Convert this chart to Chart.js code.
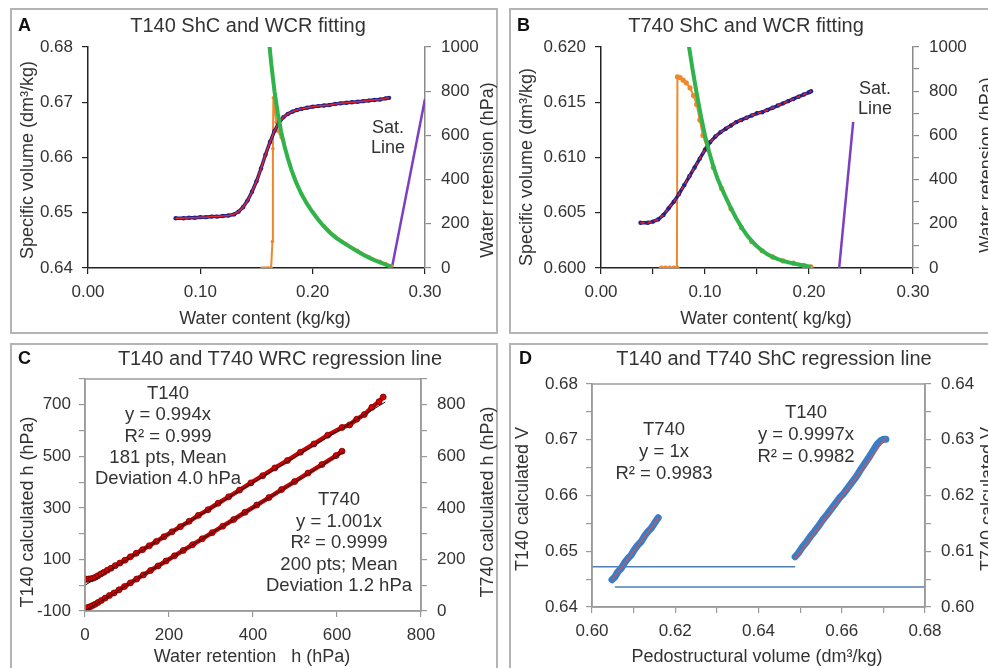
<!DOCTYPE html>
<html>
<head>
<meta charset="utf-8">
<script src="https://cdn.jsdelivr.net/npm/chart.js@4"></script>
<style>
  html, body { margin: 0; padding: 0; background: #fff; }
  #page { position: relative; width: 988px; height: 668px; overflow: hidden; font-family: 'Liberation Sans', Arial, sans-serif; }
  .frame { position: absolute; box-sizing: border-box; border: 2px solid #b4b4b4; }
  canvas { position: absolute; }
  .lbl { position: absolute; transform: translate(-50%, -50%); white-space: pre; line-height: 1; color: #333; }
  .rot { transform: translate(-50%, -50%) rotate(-90deg); }
  .tag { font-weight: bold; font-size: 18px; color: #111; transform: translate(0, -50%); }
  .note { text-align: center; font-size: 18.5px; }
</style>
</head>
<body>
<div id="page">
  <div class="frame" style="left:10px;top:8px;width:488px;height:326px"></div>
  <div class="frame" style="left:509px;top:8px;width:490px;height:326px"></div>
  <div class="frame" style="left:10px;top:343px;width:488px;height:340px"></div>
  <div class="frame" style="left:509px;top:343px;width:490px;height:340px"></div>

  <canvas id="chartA" width="488" height="325" style="left:10px;top:8px"></canvas>
  <canvas id="chartB" width="490" height="325" style="left:509px;top:8px"></canvas>
  <canvas id="chartC" width="488" height="325" style="left:10px;top:343px"></canvas>
  <canvas id="chartD" width="490" height="325" style="left:509px;top:343px"></canvas>

  <!-- A -->
  <div class="lbl tag" style="left:18px;top:25px">A</div>
  <div class="lbl" style="left:248px;top:25px;font-size:20px">T140 ShC and WCR fitting</div>
  <div class="lbl" style="left:265px;top:318px;font-size:18px">Water content (kg/kg)</div>
  <div class="lbl rot" style="left:27px;top:160px;font-size:18px">Specific volume (dm³/kg)</div>
  <div class="lbl rot" style="left:487px;top:170px;font-size:18px">Water retension (hPa)</div>
  <div class="lbl note" style="left:388px;top:137px;font-size:18px;line-height:20px">Sat.<br>Line</div>

  <!-- B -->
  <div class="lbl tag" style="left:517px;top:25px">B</div>
  <div class="lbl" style="left:746px;top:25px;font-size:20px">T740 ShC and WCR fitting</div>
  <div class="lbl" style="left:766px;top:318px;font-size:18px">Water content( kg/kg)</div>
  <div class="lbl rot" style="left:526px;top:167px;font-size:18px">Specific volume (dm³/kg)</div>
  <div class="lbl rot" style="left:986px;top:165px;font-size:18px">Water retension (hPa)</div>
  <div class="lbl note" style="left:875px;top:98px;font-size:18px;line-height:20px">Sat.<br>Line</div>

  <!-- C -->
  <div class="lbl tag" style="left:18px;top:358px">C</div>
  <div class="lbl" style="left:280px;top:358px;font-size:20px">T140 and T740 WRC regression line</div>
  <div class="lbl" style="left:252px;top:656px;font-size:18px">Water retention   h (hPa)</div>
  <div class="lbl rot" style="left:27px;top:512px;font-size:18px">T140 calculated h (hPa)</div>
  <div class="lbl rot" style="left:487px;top:502px;font-size:18px">T740 calculated h (hPa)</div>
  <div class="lbl note" style="left:168px;top:435px;line-height:21.3px">T140<br>y = 0.994x<br>R² = 0.999<br>181 pts, Mean<br>Deviation 4.0 hPa</div>
  <div class="lbl note" style="left:339px;top:542px;line-height:21.5px">T740<br>y = 1.001x<br>R² = 0.9999<br>200 pts; Mean<br>Deviation 1.2 hPa</div>

  <!-- D -->
  <div class="lbl tag" style="left:519px;top:358px">D</div>
  <div class="lbl" style="left:774px;top:358px;font-size:20px">T140 and T740 ShC regression line</div>
  <div class="lbl" style="left:757px;top:656px;font-size:18px">Pedostructural volume (dm³/kg)</div>
  <div class="lbl rot" style="left:522px;top:499px;font-size:18px">T140 calculated V</div>
  <div class="lbl rot" style="left:987px;top:499px;font-size:18px">T740 calculated V</div>
  <div class="lbl note" style="left:664px;top:451px;line-height:22px">T740<br>y = 1x<br>R² = 0.9983</div>
  <div class="lbl note" style="left:806px;top:434px;line-height:22px">T140<br>y = 0.9997x<br>R² = 0.9982</div>
</div>

<script>
// --- A: T140 shrinkage curve and water retention ---
const aShcW = [0.078, 0.085, 0.090, 0.095, 0.100, 0.105, 0.110, 0.115, 0.120, 0.125, 0.130, 0.134, 0.138, 0.142, 0.146, 0.150, 0.154, 0.158, 0.162, 0.166, 0.170, 0.174, 0.178, 0.182, 0.186, 0.190, 0.195, 0.200, 0.205, 0.210, 0.215, 0.220, 0.225, 0.230, 0.235, 0.240, 0.245, 0.250, 0.255, 0.260, 0.265, 0.268];
const aShcV = [0.6490, 0.6490, 0.6491, 0.6491, 0.6492, 0.6492, 0.6493, 0.6493, 0.6494, 0.6495, 0.6497, 0.6502, 0.6510, 0.6522, 0.6538, 0.6557, 0.6580, 0.6605, 0.6628, 0.6648, 0.6663, 0.6673, 0.6679, 0.6683, 0.6686, 0.6688, 0.6690, 0.6692, 0.6693, 0.6694, 0.6695, 0.6697, 0.6698, 0.6699, 0.6700, 0.6701, 0.6702, 0.6703, 0.6704, 0.6705, 0.6707, 0.6708];
const aFitW = [0.157, 0.160, 0.163, 0.166, 0.169, 0.172, 0.175, 0.178, 0.181, 0.185, 0.190, 0.195, 0.200, 0.205, 0.210, 0.215, 0.220, 0.225, 0.230, 0.235, 0.240, 0.245, 0.250, 0.255, 0.260, 0.265, 0.270];
const aFitH = [1250, 1090, 930, 800, 700, 615, 550, 495, 445, 390, 335, 290, 252, 218, 188, 162, 140, 122, 106, 90, 75, 60, 47, 35, 25, 15, 6];
const aObsW = [0.155, 0.157, 0.159, 0.161, 0.163, 0.1642, 0.1646, 0.1650, 0.1662, 0.1675, 0.169, 0.172, 0.175, 0.180, 0.190, 0.200, 0.210, 0.220, 0.230, 0.240, 0.250, 0.260, 0.265, 0.270];
const aObsH = [0, 0, 0, 0, 0, 120, 540, 770, 720, 660, 620, 590, 550, 465, 338, 255, 192, 145, 110, 80, 52, 30, 20, 10];
const aSatW = [0.2705, 0.300];
const aSatH = [0, 765];

// --- B: T740 shrinkage curve and water retention ---
const bShcW = [0.038, 0.045, 0.050, 0.055, 0.060, 0.065, 0.070, 0.075, 0.080, 0.085, 0.090, 0.095, 0.100, 0.105, 0.110, 0.115, 0.120, 0.125, 0.130, 0.135, 0.140, 0.145, 0.150, 0.155, 0.160, 0.165, 0.170, 0.175, 0.180, 0.185, 0.190, 0.195, 0.200, 0.202];
const bShcV = [0.6041, 0.6041, 0.6042, 0.6044, 0.6048, 0.6054, 0.6060, 0.6067, 0.6075, 0.6083, 0.6091, 0.6099, 0.6107, 0.6114, 0.6119, 0.6123, 0.6126, 0.6129, 0.6132, 0.6134, 0.6136, 0.6138, 0.6140, 0.6141, 0.6143, 0.6145, 0.6147, 0.6149, 0.6151, 0.6153, 0.6155, 0.6157, 0.6159, 0.6160];
const bFitW = [0.080, 0.084, 0.088, 0.092, 0.096, 0.100, 0.104, 0.108, 0.112, 0.116, 0.120, 0.125, 0.130, 0.135, 0.140, 0.145, 0.150, 0.155, 0.160, 0.165, 0.170, 0.175, 0.180, 0.185, 0.190, 0.195, 0.200, 0.202];
const bFitH = [1150, 1020, 900, 790, 690, 600, 525, 460, 405, 360, 320, 270, 225, 185, 150, 122, 98, 78, 62, 50, 40, 32, 26, 21, 16, 11, 7, 5];
const bObsW = [0.058, 0.062, 0.066, 0.070, 0.0730, 0.0735, 0.076, 0.079, 0.082, 0.0856, 0.089, 0.092, 0.095, 0.098, 0.102, 0.108, 0.116, 0.125, 0.135, 0.145, 0.155, 0.165, 0.175, 0.185, 0.195, 0.202];
const bObsH = [0, 0, 0, 0, 0, 865, 862, 850, 838, 815, 780, 740, 670, 600, 545, 455, 360, 268, 183, 120, 78, 50, 32, 22, 12, 5];
const bSatW = [0.229, 0.2425];
const bSatH = [0, 661];

// --- C: measured vs calculated h ---
const cT140X = [2, 5, 9, 14, 19, 25, 31, 38, 45, 53, 62, 72, 83, 95, 108, 122, 137, 153, 170, 188, 207, 227, 248, 270, 293, 317, 342, 368, 395, 423, 452, 482, 513, 545, 578, 612, 630, 647, 665, 683, 700, 710];
const cT140Y = [24, 23, 24, 25, 27, 31, 37, 44, 50, 58, 66, 76, 86, 97, 110, 124, 138, 153, 170, 188, 207, 227, 248, 271, 293, 318, 343, 369, 397, 425, 455, 484, 516, 548, 582, 612, 622, 644, 662, 690, 712, 730];
const cT740X = [1, 4, 8, 13, 18, 24, 31, 39, 48, 58, 69, 81, 94, 108, 123, 139, 156, 174, 193, 213, 234, 256, 279, 303, 328, 354, 381, 409, 438, 468, 499, 531, 564, 598, 612];
const cT740Y = [10, 12, 14, 17, 21, 26, 33, 41, 50, 60, 70, 82, 95, 109, 124, 140, 157, 175, 194, 214, 235, 257, 280, 304, 329, 355, 383, 411, 440, 471, 502, 535, 568, 603, 620];
const cFit140X = [0, 715];
const cFit740X = [0, 615];
const c140Slope = 0.994;
const c740Slope = 1.001;

// --- D: measured vs calculated V ---
const dT740X = [0.6048, 0.6055, 0.6062, 0.6070, 0.6078, 0.6086, 0.6094, 0.6102, 0.6110, 0.6118, 0.6126, 0.6134, 0.6142, 0.6150, 0.6156, 0.6159];
const dT740Y = [0.6049, 0.6054, 0.6063, 0.6069, 0.6079, 0.6087, 0.6093, 0.6103, 0.6111, 0.6117, 0.6127, 0.6135, 0.6141, 0.6150, 0.6157, 0.6160];
const dT140X = [0.6488, 0.6495, 0.6505, 0.6515, 0.6525, 0.6535, 0.6545, 0.6555, 0.6565, 0.6575, 0.6585, 0.6595, 0.6605, 0.6615, 0.6625, 0.6635, 0.6645, 0.6655, 0.6665, 0.6675, 0.6685, 0.6693, 0.6700, 0.6706];
const dT140Y = [0.6490, 0.6496, 0.6507, 0.6516, 0.6527, 0.6536, 0.6546, 0.6557, 0.6566, 0.6576, 0.6586, 0.6596, 0.6604, 0.6614, 0.6624, 0.6634, 0.6646, 0.6657, 0.6668, 0.6680, 0.6692, 0.6698, 0.6701, 0.6701];
const dBase140X = [0.600, 0.6488];
const dBase140Y = [0.6472, 0.6472];
const dBase740X = [0.6055, 0.680];
const dBase740Y = [0.6036, 0.6036];
const dFit140X = [0.6488, 0.6706];
const dFit740X = [0.6048, 0.6160];
const d140Slope = 0.9997;
const d740Slope = 1;

Chart.defaults.font.family = "'Liberation Sans', Arial, sans-serif";

function pts(xs, ys) {
    return xs.map((x, i) => ({ x: x, y: ys[i] }));
}

function fitLine(xs, slope) {
    return xs.map(x => ({ x: x, y: slope * x }));
}

// fixed axis boxes so every plot area lands where it should
function fixSize(size) {
    return function (scale) {
        if (scale.isHorizontal()) scale.height = size;
        else scale.width = size;
    };
}

function axis(o) {
    return {
        type: 'linear',
        position: o.pos,
        min: o.min,
        max: o.max,
        afterFit: fixSize(o.size),
        border: { display: true, color: o.line, width: 1.5 },
        grid: { drawOnChartArea: false, drawTicks: true, tickLength: 6, color: o.line, lineWidth: 1.2 },
        ticks: { stepSize: o.step, autoSkip: false, maxRotation: 0, padding: o.pad, color: '#333', font: { size: 17 }, callback: o.label }
    };
}

function line(data, color, width, extra) {
    return Object.assign({ data: data, showLine: true, borderColor: color, borderWidth: width, pointRadius: 0, tension: 0, fill: false }, extra || {});
}

// grey box round the plot area (C and D)
const plotBox = {
    id: 'plotBox',
    afterDraw(chart) {
        const a = chart.chartArea, ctx = chart.ctx;
        ctx.save();
        ctx.strokeStyle = '#9a9a9a';
        ctx.lineWidth = 1.5;
        ctx.strokeRect(a.left, a.top, a.right - a.left, a.bottom - a.top);
        ctx.restore();
    }
};

const common = {
    responsive: false,
    animation: false,
    plugins: { legend: { display: false }, tooltip: { enabled: false } }
};

const fix2 = v => v.toFixed(2);
const fix3 = v => v.toFixed(3);
const every = (n, f) => v => (Math.round(v / n * 1000) % 1000 === 0 ? f(v) : '');

// A
new Chart(document.getElementById('chartA'), {
    type: 'scatter',
    data: {
        datasets: [
            line(pts(aFitW, aFitH), '#2fb34a', 4, { yAxisID: 'y2' }),
            line(pts(aShcW, aShcV), '#e3262b', 1.5),
            line(pts(aShcW, aShcV), '#22228a', 3.5, { pointRadius: 2.2, pointBackgroundColor: '#22228a', pointBorderWidth: 0 }),
            line(pts(aObsW, aObsH), '#f0882a', 2, { yAxisID: 'y2', pointRadius: 1.8, pointBackgroundColor: '#f0882a', pointBorderWidth: 0 }),
            line(pts(aSatW, aSatH), '#7d3fc0', 2.5, { yAxisID: 'y2' })
        ]
    },
    options: Object.assign({}, common, {
        layout: { padding: { left: 2, right: 0, top: 39, bottom: 2 } },
        scales: {
            x: axis({ pos: 'bottom', min: 0, max: 0.30, step: 0.10, size: 63, pad: 8, line: '#222', label: fix2 }),
            y: axis({ pos: 'left', min: 0.64, max: 0.68, step: 0.01, size: 76, pad: 9, line: '#222', label: fix2 }),
            y2: axis({ pos: 'right', min: 0, max: 1000, step: 200, size: 73, pad: 10, line: '#8a8a8a', label: v => String(v) })
        }
    })
});

// B
new Chart(document.getElementById('chartB'), {
    type: 'scatter',
    data: {
        datasets: [
            line(pts(bFitW, bFitH), '#2fb34a', 4, { yAxisID: 'y2' }),
            line(pts(bShcW, bShcV), '#e3262b', 1.5, { borderDash: [4, 3] }),
            line(pts(bShcW, bShcV), '#22228a', 3.5, { pointRadius: 2.2, pointBackgroundColor: '#22228a', pointBorderWidth: 0 }),
            line(pts(bObsW, bObsH), '#f0882a', 2, { yAxisID: 'y2', pointRadius: 2.6, pointBackgroundColor: '#f0882a', pointBorderWidth: 0 }),
            line(pts(bSatW, bSatH), '#7d3fc0', 2.5, { yAxisID: 'y2' })
        ]
    },
    options: Object.assign({}, common, {
        layout: { padding: { left: 2, right: 0, top: 39, bottom: 2 } },
        scales: {
            x: axis({ pos: 'bottom', min: 0, max: 0.30, step: 0.05, size: 63, pad: 8, line: '#222', label: every(0.1, fix2) }),
            y: axis({ pos: 'left', min: 0.600, max: 0.620, step: 0.005, size: 90, pad: 9, line: '#222', label: fix3 }),
            y2: axis({ pos: 'right', min: 0, max: 1000, step: 100, size: 86, pad: 10, line: '#8a8a8a', label: every(200, v => String(v)) })
        }
    })
});

// C
const redDots = { pointRadius: 3, pointBackgroundColor: '#d40000', pointBorderColor: '#7a0000', pointBorderWidth: 0.8 };
new Chart(document.getElementById('chartC'), {
    type: 'scatter',
    data: {
        datasets: [
            line(fitLine(cFit140X, c140Slope), '#111', 1),
            line(fitLine(cFit740X, c740Slope), '#111', 1, { yAxisID: 'y2' }),
            line(pts(cT140X, cT140Y), '#c40000', 4.5, redDots),
            line(pts(cT740X, cT740Y), '#c40000', 4.5, Object.assign({ yAxisID: 'y2' }, redDots))
        ]
    },
    options: Object.assign({}, common, {
        layout: { padding: { left: 2, right: 0, top: 36, bottom: 2 } },
        scales: {
            x: axis({ pos: 'bottom', min: 0, max: 800, step: 200, size: 55, pad: 8, line: '#9a9a9a', label: v => String(v) }),
            y: axis({ pos: 'left', min: -100, max: 800, step: 100, size: 73, pad: 8, line: '#9a9a9a', label: v => ((v + 100) % 200 === 0 && v < 800 ? String(v) : '') }),
            y2: axis({ pos: 'right', min: 0, max: 900, step: 100, size: 77, pad: 10, line: '#9a9a9a', label: v => (v % 200 === 0 ? String(v) : '') })
        }
    }),
    plugins: [plotBox]
});

// D
new Chart(document.getElementById('chartD'), {
    type: 'scatter',
    data: {
        datasets: [
            line(fitLine(dFit140X, d140Slope), '#d9534f', 1.2),
            line(fitLine(dFit740X, d740Slope), '#d9534f', 1.2, { yAxisID: 'y2' }),
            line(pts(dT140X, dT140Y), '#3a7cc6', 7, { borderCapStyle: 'round', borderJoinStyle: 'round' }),
            line(pts(dT740X, dT740Y), '#3a7cc6', 7, { yAxisID: 'y2', borderCapStyle: 'round', borderJoinStyle: 'round' }),
            line(pts(dBase140X, dBase140Y), '#4f7fb6', 1.5),
            line(pts(dBase740X, dBase740Y), '#4f7fb6', 1.5, { yAxisID: 'y2' })
        ]
    },
    options: Object.assign({}, common, {
        layout: { padding: { left: 2, right: 0, top: 41, bottom: 2 } },
        scales: {
            x: axis({ pos: 'bottom', min: 0.60, max: 0.68, step: 0.01, size: 59, pad: 8, line: '#9a9a9a', label: every(0.02, fix2) }),
            y: axis({ pos: 'left', min: 0.64, max: 0.68, step: 0.005, size: 81, pad: 8, line: '#9a9a9a', label: every(0.01, fix2) }),
            y2: axis({ pos: 'right', min: 0.60, max: 0.64, step: 0.005, size: 74, pad: 10, line: '#9a9a9a', label: every(0.01, fix2) })
        }
    }),
    plugins: [plotBox]
});
</script>
</body>
</html>
